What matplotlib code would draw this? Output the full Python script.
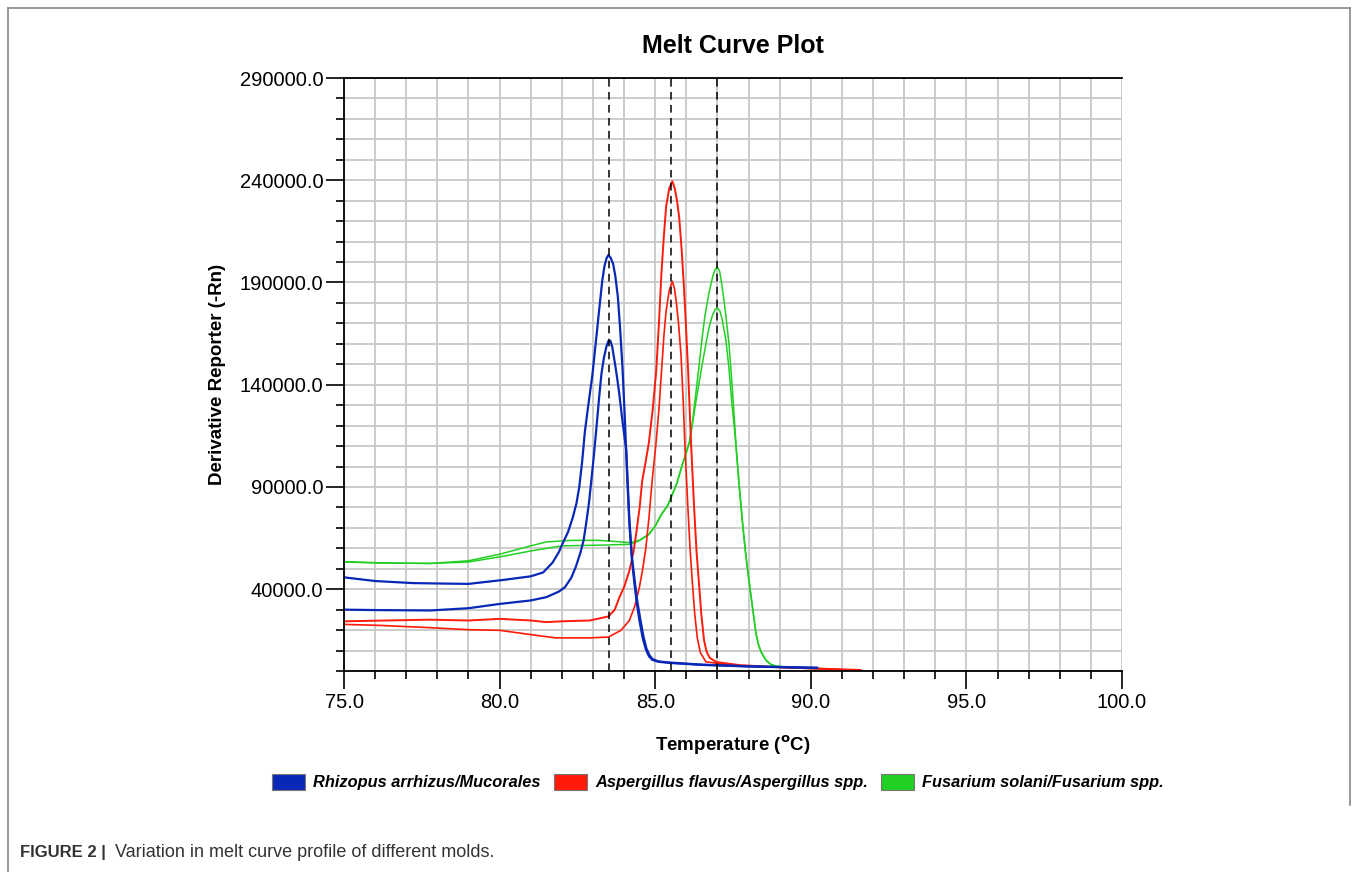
import matplotlib
matplotlib.use("Agg")
import matplotlib.pyplot as plt
from matplotlib.patches import Patch
from matplotlib.lines import Line2D
from matplotlib.ticker import MultipleLocator, FixedLocator, FormatStrFormatter

plt.rcParams['font.family'] = ['Liberation Sans', 'DejaVu Sans']

# melt curves (temperature, derivative reporter)
blue_a_t = [75.0, 76.0, 77.2, 78.0, 79.0, 80.1, 81.0, 81.4, 81.7, 81.9, 82.0, 82.2, 82.35,
            82.47, 82.56, 82.65, 82.74, 82.85, 82.98, 83.1, 83.2, 83.3, 83.37, 83.44, 83.5,
            83.57, 83.65, 83.72, 83.8, 83.87, 83.95, 84.02, 84.1, 84.17, 84.25, 84.33, 84.41,
            84.49, 84.6, 84.7, 84.8, 84.9, 85.1, 85.5, 86.5, 88.0, 90.2]
blue_a_v = [45800, 44000, 43000, 42800, 42600, 44500, 46300, 48200, 53000, 58000, 61500, 68000, 75000,
            82000, 90000, 102000, 117000, 130000, 144600, 162000, 176700, 191000, 198000, 202000, 203500,
            202000, 199000, 193000, 183000, 168000, 148000, 125000, 95000, 72000, 55000, 43000, 33000,
            25000, 16000, 10500, 7200, 5500, 4500, 3900, 3000, 2200, 1500]

blue_b_t = [75.0, 76.0, 77.76, 79.0, 80.0, 81.0, 81.5, 81.9, 82.1, 82.3, 82.45, 82.6, 82.7,
            82.78, 82.87, 82.94, 83.02, 83.1, 83.2, 83.27, 83.35, 83.43, 83.5, 83.56, 83.62,
            83.7, 83.78, 83.85, 83.95, 84.07, 84.17, 84.25, 84.35, 84.43, 84.52, 84.62, 84.72,
            84.82, 84.92, 85.1, 85.5, 86.5, 88.0, 90.2]
blue_b_v = [30000, 29800, 29600, 30700, 32800, 34500, 36100, 38800, 41000, 45500, 51000, 58000, 64000,
            72000, 82000, 92000, 104000, 117000, 134000, 145000, 153000, 158500, 161500, 161500, 158500,
            151000, 143000, 135000, 122000, 108000, 74000, 56000, 43000, 33500, 25500, 17000, 11000,
            7600, 5800, 4700, 4100, 3100, 2300, 1600]

red_a_t = [75.0, 76.0, 77.76, 79.0, 80.0, 81.0, 81.5, 82.0, 82.9, 83.5, 83.7, 83.85, 84.0,
           84.17, 84.3, 84.4, 84.5, 84.58, 84.7, 84.8, 84.92, 85.03, 85.12, 85.2, 85.28,
           85.35, 85.45, 85.55, 85.63, 85.7, 85.77, 85.85, 85.93, 86.0, 86.06, 86.15, 86.25,
           86.33, 86.4, 86.48, 86.57, 86.65, 86.75, 86.96, 87.7, 89.0, 91.6]
red_a_v = [24300, 24600, 25100, 24700, 25500, 24700, 23900, 24300, 24700, 26700, 30000, 36000, 41000,
           49000, 58000, 68400, 80000, 92700, 103000, 112000, 128000, 146000, 170000, 194600, 213000,
           227000, 236000, 239500, 236000, 230000, 222000, 206000, 186000, 165000, 146000, 112000, 80000,
           58000, 44200, 28000, 15000, 9500, 6500, 4400, 2900, 1800, 500]

red_b_t = [75.0, 76.15, 77.76, 79.0, 80.0, 81.0, 81.8, 82.9, 83.5, 83.9, 84.17, 84.35, 84.49,
           84.6, 84.7, 84.8, 84.9, 85.03, 85.12, 85.2, 85.28, 85.35, 85.45, 85.55, 85.62,
           85.67, 85.75, 85.83, 85.9, 85.95, 86.05, 86.12, 86.19, 86.27, 86.35, 86.45, 86.63,
           87.5, 89.0, 91.0]
red_b_v = [22800, 22300, 21200, 20200, 19900, 17800, 16200, 16200, 16600, 19900, 24700, 32000, 40800,
           50000, 60200, 75000, 92700, 112000, 128000, 146000, 164000, 176000, 186000, 190600, 187000,
           181500, 170000, 154300, 132000, 112000, 80000, 60000, 44200, 28000, 16500, 9000, 4500,
           2700, 1800, 700]

green_a_t = [75.0, 76.15, 77.76, 79.0, 80.0, 81.0, 81.5, 82.3, 83.2, 84.2, 84.5, 84.8, 85.0,
             85.2, 85.4, 85.55, 85.7, 85.87, 86.0, 86.1, 86.2, 86.3, 86.4, 86.5, 86.6,
             86.73, 86.85, 86.93, 87.0, 87.07, 87.15, 87.27, 87.37, 87.47, 87.55, 87.6, 87.7,
             87.8, 87.9, 88.0, 88.1, 88.24, 88.32, 88.4, 88.56, 88.7, 88.88, 89.5, 90.7]
green_a_v = [53500, 52900, 52600, 53900, 57100, 61200, 63100, 63900, 63900, 62800, 64000, 67000, 71000,
             76700, 81000, 86400, 92000, 101000, 107000, 112000, 122000, 135000, 148000, 162000, 174000,
             185000, 193000, 196500, 197500, 195500, 188000, 174000, 160000, 140000, 122000, 110000, 91000,
             74000, 58700, 46000, 34500, 18400, 13000, 9500, 5300, 3400, 2400, 1600, 1000]

green_b_t = [75.0, 76.15, 77.76, 79.0, 80.0, 81.0, 82.0, 83.4, 84.2, 84.5, 84.8, 85.0,
             85.2, 85.4, 85.55, 85.7, 85.87, 86.0, 86.1, 86.2, 86.3, 86.4, 86.5, 86.63,
             86.73, 86.83, 86.93, 87.0, 87.08, 87.15, 87.27, 87.37, 87.47, 87.55, 87.6, 87.7,
             87.8, 87.9, 88.0, 88.1, 88.24, 88.32, 88.4, 88.56, 88.7, 88.88, 89.5, 90.7]
green_b_v = [53300, 52800, 52600, 53300, 55800, 58700, 61200, 61600, 62000, 63800, 66800, 70800,
             76500, 80800, 86200, 91800, 100800, 106800, 111800, 121000, 131000, 140000, 149000, 160000,
             168000, 173500, 177000, 177500, 176000, 172000, 162000, 148000, 130000, 118000, 109000, 90000,
             73000, 58000, 45500, 34000, 18000, 12800, 9300, 5200, 3300, 2300, 1500, 900]

peak_temps = [83.5, 85.5, 87.0]

legend_labels = ['Rhizopus arrhizus/Mucorales', 'Aspergillus flavus/Aspergillus spp.',
                 'Fusarium solani/Fusarium spp.']
blue = '#0a28b8'
red = '#ff1a0a'
green = '#22d022'

fig = plt.figure(figsize=(13.58, 8.72), dpi=100)
ax = fig.add_axes([344 / 1358, 1 - 671 / 872, 778 / 1358, 593 / 872])

ax.plot(green_a_t, green_a_v, color=green, lw=1.1)
ax.plot(green_b_t, green_b_v, color=green, lw=1.1)
ax.plot(red_a_t, red_a_v, color=red, lw=1.4)
ax.plot(red_b_t, red_b_v, color=red, lw=1.2)
ax.plot(blue_b_t, blue_b_v, color=blue, lw=1.6)
ax.plot(blue_a_t, blue_a_v, color=blue, lw=1.6)

for t in peak_temps:
    ax.axvline(t, color='black', lw=1.1, ls=(0, (5, 3.5)), zorder=3)

ax.set_xlim(75, 100)
ax.set_ylim(0, 290000)
ax.xaxis.set_major_locator(MultipleLocator(5))
ax.xaxis.set_minor_locator(MultipleLocator(1))
ax.yaxis.set_major_locator(FixedLocator([40000, 90000, 140000, 190000, 240000, 290000]))
ax.yaxis.set_minor_locator(MultipleLocator(10000))
ax.xaxis.set_major_formatter(FormatStrFormatter('%.1f'))
ax.yaxis.set_major_formatter(FormatStrFormatter('%.1f'))
ax.grid(which='both', color='#c8c8c8', lw=1.3)
ax.set_axisbelow(True)
ax.tick_params(which='major', length=13, width=1.2, labelsize=14.5)
ax.tick_params(which='minor', length=5.5, width=1.2)
ax.tick_params(axis='x', pad=3)
ax.tick_params(axis='y', pad=2)
for side in ['top', 'right']:
    ax.spines[side].set_visible(False)
for side in ['left', 'bottom']:
    ax.spines[side].set_linewidth(1.3)
ax.plot([0, 1], [1, 1], transform=ax.transAxes, color='black', lw=1.3, clip_on=False)

ax.set_title('Melt Curve Plot', fontsize=18, fontweight='bold', pad=18)
ax.set_ylabel('Derivative Reporter (-Rn)', fontsize=13.5, fontweight='bold', labelpad=10)
fig.text(733 / 1358, 1 - 745 / 872, r'Temperature ($\mathbf{^o}$C)', fontsize=13.5,
         fontweight='bold', ha='center', va='center')

handles = [Patch(facecolor=c, edgecolor='#777777', lw=0.8) for c in (blue, red, green)]
fig.legend(handles, legend_labels, loc='center', bbox_to_anchor=(718 / 1358, 1 - 782 / 872),
           ncol=3, frameon=False, handlelength=2.0, handleheight=1.1, handletextpad=0.5,
           columnspacing=0.8, prop={'size': 11.8, 'weight': 'bold', 'style': 'italic'})

# journal frame and caption
fig.add_artist(Line2D([8 / 1358, 8 / 1358], [0, 1 - 8 / 872], transform=fig.transFigure,
                      color='#888888', lw=1.2))
fig.add_artist(Line2D([8 / 1358, 1350 / 1358], [1 - 8 / 872, 1 - 8 / 872],
                      transform=fig.transFigure, color='#888888', lw=1.2))
fig.add_artist(Line2D([1350 / 1358, 1350 / 1358], [1 - 8 / 872, 1 - 805 / 872],
                      transform=fig.transFigure, color='#888888', lw=1.2))
fig.text(20 / 1358, 1 - 852 / 872, 'FIGURE 2 |', fontsize=12, fontweight='bold',
         color='#333333', va='center')
fig.text(115 / 1358, 1 - 852 / 872, 'Variation in melt curve profile of different molds.',
         fontsize=13, color='#333333', va='center')

fig.savefig('out.png', dpi=100)
